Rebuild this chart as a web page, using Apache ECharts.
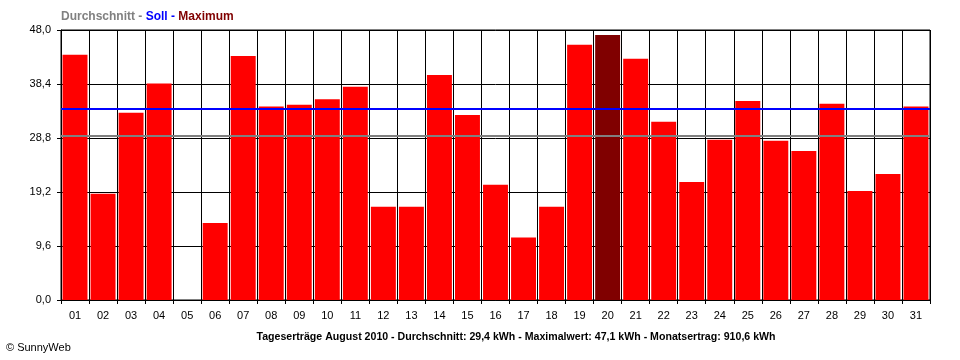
<!DOCTYPE html>
<html>
<head>
<meta charset="utf-8">
<script src="https://cdn.jsdelivr.net/npm/echarts@6/dist/echarts.min.js"></script>
<style>html,body{margin:0;padding:0;background:#fff}#c{width:960px;height:360px}</style>
</head>
<body>
<div id="c"></div>
<script>
var days = ['01','02','03','04','05','06','07','08','09','10','11','12','13','14','15','16','17','18','19','20','21','22','23','24','25','26','27','28','29','30','31'];
var yields = [43.6,18.9,33.3,38.5,0,13.7,43.4,34.4,34.7,35.7,37.9,16.6,16.6,40.0,32.9,20.5,11.1,16.6,45.4,47.1,42.9,31.7,21.0,28.5,35.4,28.3,26.5,34.9,19.4,22.4,34.4];
var averageValue = 29.2;
var targetValue = 34.0;
var yTicks = [0, 9.6, 19.2, 28.8, 38.4, 48.0];

var maxVal = Math.max.apply(null, yields);
var barData = yields.map(function (v) {
  return { value: v, itemStyle: { color: v === maxVal ? '#800000' : '#ff0000' } };
});

var FONT = 'Liberation Sans';
var chart = echarts.init(document.getElementById('c'), null, { renderer: 'canvas' });
chart.setOption({
  animation: false,
  backgroundColor: '#ffffff',
  graphic: [{
    type: 'text', left: 61, top: 11, z: 100,
    style: {
      text: '{a|Durchschnitt -} {b|Soll -} {c|Maximum}',
      font: 'bold 12px "Liberation Sans"',
      rich: {
        a: { fill: '#808080', font: 'bold 12px "Liberation Sans"' },
        b: { fill: '#0000ff', font: 'bold 12px "Liberation Sans"' },
        c: { fill: '#800000', font: 'bold 12px "Liberation Sans"' }
      }
    }
  }, {
    type: 'text', x: 516, y: 337, z: 100,
    style: {
      text: 'Tageserträge August 2010 - Durchschnitt: 29,4 kWh - Maximalwert: 47,1 kWh - Monatsertrag: 910,6 kWh',
      font: 'bold 10.6px "Liberation Sans"', fill: '#000',
      align: 'center', verticalAlign: 'middle'
    }
  }, {
    type: 'text', x: 6, y: 348, z: 100,
    style: {
      text: '© SunnyWeb',
      font: '11px "Liberation Sans"', fill: '#000',
      align: 'left', verticalAlign: 'middle'
    }
  }],
  grid: { left: 61, right: 30, top: 30, bottom: 60, show: true, borderColor: '#000', borderWidth: 1, backgroundColor: 'transparent' },
  xAxis: {
    type: 'category',
    data: days,
    boundaryGap: true,
    axisLine: { lineStyle: { color: '#000', width: 1 } },
    axisTick: { show: true, length: 4, lineStyle: { color: '#000' } },
    axisLabel: { color: '#000', fontFamily: FONT, fontSize: 11, margin: 10 },
    splitLine: { show: true, lineStyle: { color: '#000', width: 1 } }
  },
  yAxis: {
    type: 'value',
    min: 0, max: 48, interval: 9.6,
    axisLine: { show: true, lineStyle: { color: '#000', width: 1 } },
    axisTick: { show: true, length: 4, lineStyle: { color: '#000' } },
    axisLabel: {
      color: '#000', fontFamily: FONT, fontSize: 11, margin: 10,
      formatter: function (v) {
        var best = yTicks.reduce(function (a, b) { return Math.abs(b - v) < Math.abs(a - v) ? b : a; });
        return best.toFixed(1).replace('.', ',');
      }
    },
    splitLine: { show: true, lineStyle: { color: '#000', width: 1 } }
  },
  series: [{
    type: 'bar',
    name: 'Ertrag',
    data: barData,
    barCategoryGap: '11%',
    markLine: {
      silent: true,
      symbol: ['none', 'none'],
      label: { show: false },
      emphasis: { disabled: true },
      z: 20,
      data: [
        { yAxis: averageValue, lineStyle: { color: '#808080', width: 2, type: 'solid' } },
        { yAxis: targetValue, lineStyle: { color: '#0000ff', width: 2, type: 'solid', opacity: 1 } }
      ]
    }
  }]
});
</script>
</body>
</html>
